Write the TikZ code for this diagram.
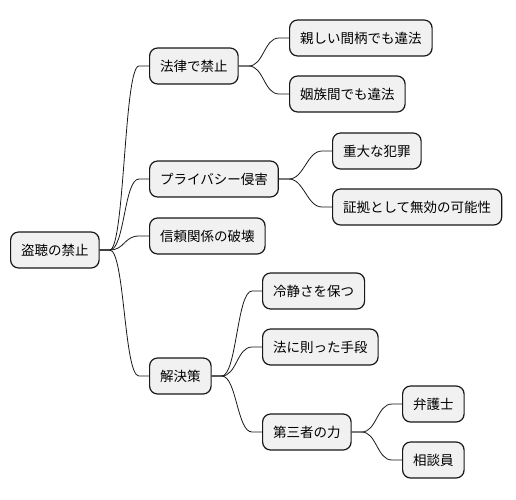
\documentclass[tikz,border=0pt]{standalone}
\usepackage{fontspec}
\newfontfamily\jpfont{Noto Sans CJK JP}
\usetikzlibrary{positioning}
\definecolor{boxfill}{HTML}{F1F1F1}
\definecolor{boxline}{HTML}{181818}

\begin{document}
\begin{tikzpicture}[x=1pt, y=-1pt,
  topic/.style={draw=boxline, fill=boxfill, line width=1.2pt, rounded corners=8pt,
    minimum height=36pt, inner xsep=10.5pt, anchor=west,
    font=\jpfont\fontsize{13.5}{16}\selectfont},
  branch/.style={draw=boxline, line width=0.8pt}]
\useasboundingbox (0,0) rectangle (516,499);
% nodes
\node[topic] (root) at (10,250) {盗聴の禁止};
\node[topic] (law) at (149,66) {法律で禁止};
\node[topic] (privacy) at (149,179) {プライバシー侵害};
\node[topic] (trust) at (149,236) {信頼関係の破壊};
\node[topic] (solve) at (149,376) {解決策};
\node[topic] (close) at (289,38) {親しい間柄でも違法};
\node[topic] (inlaw) at (289,94) {姻族間でも違法};
\node[topic] (crime) at (332,151) {重大な犯罪};
\node[topic] (evidence) at (332,207) {証拠として無効の可能性};
\node[topic] (calm) at (262,291) {冷静さを保つ};
\node[topic] (legal) at (262,347) {法に則った手段};
\node[topic] (third) at (262,432) {第三者の力};
\node[topic] (lawyer) at (402,404) {弁護士};
\node[topic] (counsel) at (402,460) {相談員};
% branches
\draw[branch] (root.east) -- ++(10pt,0) .. controls +(15pt,0) and +(-15pt,0) .. ([xshift=-10pt]law.west) -- (law.west);
\draw[branch] (root.east) -- ++(10pt,0) .. controls +(15pt,0) and +(-15pt,0) .. ([xshift=-10pt]privacy.west) -- (privacy.west);
\draw[branch] (root.east) -- ++(10pt,0) .. controls +(15pt,0) and +(-15pt,0) .. ([xshift=-10pt]trust.west) -- (trust.west);
\draw[branch] (root.east) -- ++(10pt,0) .. controls +(15pt,0) and +(-15pt,0) .. ([xshift=-10pt]solve.west) -- (solve.west);
\draw[branch] (law.east) -- ++(10pt,0) .. controls +(15pt,0) and +(-15pt,0) .. ([xshift=-10pt]close.west) -- (close.west);
\draw[branch] (law.east) -- ++(10pt,0) .. controls +(15pt,0) and +(-15pt,0) .. ([xshift=-10pt]inlaw.west) -- (inlaw.west);
\draw[branch] (privacy.east) -- ++(10pt,0) .. controls +(15pt,0) and +(-15pt,0) .. ([xshift=-10pt]crime.west) -- (crime.west);
\draw[branch] (privacy.east) -- ++(10pt,0) .. controls +(15pt,0) and +(-15pt,0) .. ([xshift=-10pt]evidence.west) -- (evidence.west);
\draw[branch] (solve.east) -- ++(10pt,0) .. controls +(15pt,0) and +(-15pt,0) .. ([xshift=-10pt]calm.west) -- (calm.west);
\draw[branch] (solve.east) -- ++(10pt,0) .. controls +(15pt,0) and +(-15pt,0) .. ([xshift=-10pt]legal.west) -- (legal.west);
\draw[branch] (solve.east) -- ++(10pt,0) .. controls +(15pt,0) and +(-15pt,0) .. ([xshift=-10pt]third.west) -- (third.west);
\draw[branch] (third.east) -- ++(10pt,0) .. controls +(15pt,0) and +(-15pt,0) .. ([xshift=-10pt]lawyer.west) -- (lawyer.west);
\draw[branch] (third.east) -- ++(10pt,0) .. controls +(15pt,0) and +(-15pt,0) .. ([xshift=-10pt]counsel.west) -- (counsel.west);
\end{tikzpicture}
\end{document}
